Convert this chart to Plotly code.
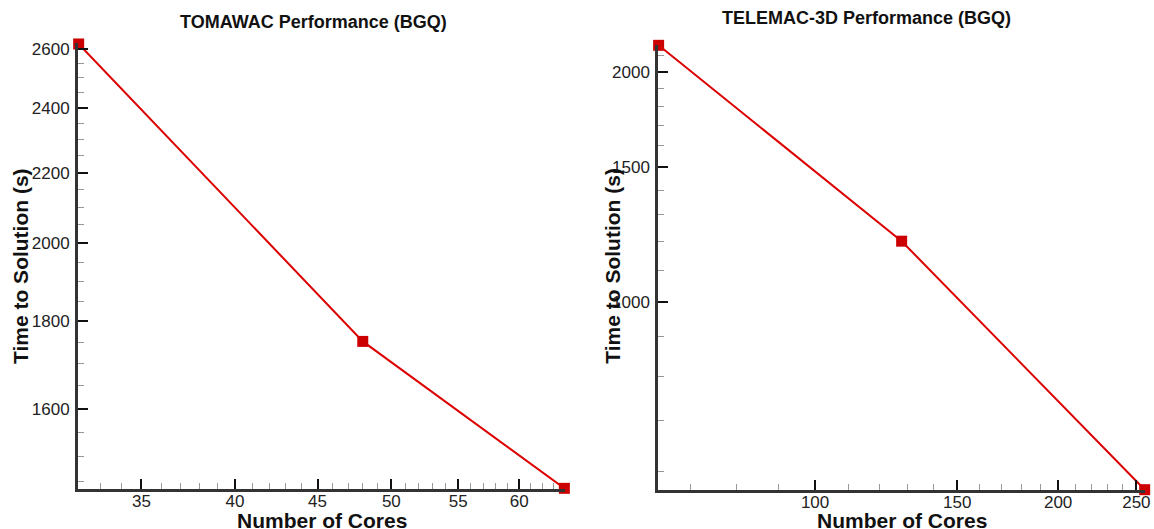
import math
import plotly.graph_objects as go

# ---- data ----
tomawac_cores = [32, 48, 64]
tomawac_time = [2617, 1752, 1437]
telemac_cores = [64, 128, 256]
telemac_time = [2167, 1201, 568]

tomawac_xticks = [35, 40, 45, 50, 55, 60]
tomawac_yticks = [1600, 1800, 2000, 2200, 2400, 2600]
telemac_xticks = [100, 150, 200, 250]
telemac_yticks = [1000, 1500, 2000]

tomawac_xminor = [33, 34, 36, 37, 38, 39, 41, 42, 43, 44, 46, 47, 48, 49,
                  51, 52, 53, 54, 56, 57, 58, 59, 61, 62, 63]
tomawac_yminor = [1450, 1500, 1550, 1650, 1700, 1750, 1850, 1900, 1950,
                  2050, 2100, 2150, 2250, 2300, 2350, 2450, 2500, 2550]
telemac_xminor = [70, 80, 90, 110, 120, 130, 140, 160, 170, 180, 190,
                  210, 220, 230, 240]
telemac_yminor = [600, 700, 800, 900, 1100, 1200, 1300, 1400, 1600, 1700,
                  1800, 1900, 2100]

titles = ["TOMAWAC Performance (BGQ)", "TELEMAC-3D Performance (BGQ)"]
xlabel = "Number of Cores"
ylabel = "Time to Solution (s)"

W, H = 1154, 529
FONT = "Liberation Sans, Arial, Helvetica, sans-serif"
RED = "#dc0000"
EPS = 0.0004  # tiny log padding so end markers are kept

def px_x(v):
    return v / W

def px_y(v):
    return (H - v) / H

fig = go.Figure()
fig.add_trace(go.Scatter(x=tomawac_cores, y=tomawac_time, mode="lines+markers",
                         line=dict(color=RED, width=2),
                         marker=dict(symbol="square", size=11, color="#cc0000"),
                         cliponaxis=False, xaxis="x", yaxis="y", showlegend=False))
fig.add_trace(go.Scatter(x=telemac_cores, y=telemac_time, mode="lines+markers",
                         line=dict(color=RED, width=2),
                         marker=dict(symbol="square", size=11, color="#cc0000"),
                         cliponaxis=False, xaxis="x2", yaxis="y2", showlegend=False))

def axis(domain, rng, ticks, minor, anchor, standoff):
    return dict(
        type="log", domain=domain, anchor=anchor,
        range=[math.log10(rng[0]) - EPS, math.log10(rng[1]) + EPS],
        tickmode="array", tickvals=ticks, ticktext=[str(t) for t in ticks],
        ticks="inside", ticklen=10, tickwidth=2, tickcolor="#111",
        showline=True, linecolor="#333", linewidth=3, mirror=False,
        showgrid=False, zeroline=False,
        tickfont=dict(family=FONT, size=17, color="#222"),
        ticklabelstandoff=standoff,
        minor=dict(tickmode="array", tickvals=minor, ticks="inside",
                   ticklen=6, tickwidth=1, tickcolor="#999", showgrid=False),
    )

fig.update_layout(
    width=W, height=H,
    margin=dict(l=0, r=0, t=0, b=0, autoexpand=False),
    paper_bgcolor="white", plot_bgcolor="white",
    xaxis=axis([px_x(78), px_x(565)], (min(tomawac_cores), max(tomawac_cores)),
               tomawac_xticks, tomawac_xminor, "y", -5),
    yaxis=axis([px_y(489), px_y(43.3)], (min(tomawac_time), max(tomawac_time)),
               tomawac_yticks, tomawac_yminor, "x", 2),
    xaxis2=axis([px_x(658.3), px_x(1145)], (min(telemac_cores), max(telemac_cores)),
                telemac_xticks, telemac_xminor, "y2", -5),
    yaxis2=axis([px_y(490), px_y(45)], (min(telemac_time), max(telemac_time)),
                telemac_yticks, telemac_yminor, "x2", 2),
)

ann = []
for text, cx, cy in [(titles[0], 313, 21.7), (titles[1], 866.5, 18.3)]:
    ann.append(dict(text="<b>%s</b>" % text, x=px_x(cx), y=px_y(cy), xref="paper", yref="paper",
                    xanchor="center", yanchor="middle", showarrow=False,
                    font=dict(family=FONT, size=18, color="#111")))
for cx in (321.5, 901.7):
    ann.append(dict(text="<b>%s</b>" % xlabel, x=px_x(cx), y=px_y(520), xref="paper", yref="paper",
                    xanchor="center", yanchor="middle", showarrow=False,
                    font=dict(family=FONT, size=21, color="#111")))
for cx in (20, 611.7):
    ann.append(dict(text="<b>%s</b>" % ylabel, x=px_x(cx), y=px_y(266), xref="paper", yref="paper",
                    xanchor="center", yanchor="middle", showarrow=False, textangle=-90,
                    font=dict(family=FONT, size=21, color="#111")))
fig.update_layout(annotations=ann)

fig.write_html("out.html", config={"displayModeBar": False},
               post_script="document.body.style.margin='0';document.body.style.overflow='hidden';")
